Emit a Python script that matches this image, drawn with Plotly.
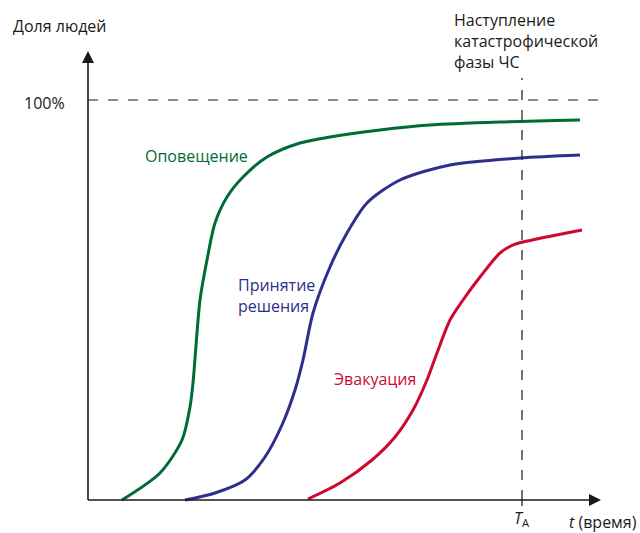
import plotly.graph_objects as go

# time in arbitrary units, share of people in %
notify_t = [3.4, 7.2, 9.4, 10.2, 10.5, 11.2, 11.9, 12.7, 13.9, 15.5, 17.9, 21.2, 24.2, 29.2, 34.2, 41.2, 49.2]
notify_y = [0, 6.75, 15, 23.25, 29.25, 50, 60, 69.25, 75.75, 80.75, 85.75, 89.25, 90.75, 92.5, 93.75, 94.5, 95]

decision_t = [9.7, 12.7, 15.7, 17.7, 19.4, 20.7, 21.5, 22.5, 24.2, 25.9, 27.9, 31.2, 36.2, 43.2, 49.2]
decision_y = [0, 1.75, 5, 10.75, 18.75, 27.5, 35, 46.75, 58.25, 66.75, 74.25, 80, 83.75, 85.5, 86.25]

evac_t = [22.0, 25.2, 28.4, 30.7, 32.5, 33.9, 34.9, 36.2, 37.5, 39.2, 41.2, 42.5, 43.5, 49.4]
evac_y = [0.25, 4.25, 10, 15.75, 22.5, 30, 36.75, 45, 50, 55.75, 61.75, 63.75, 64.5, 67.5]

T_A = 43.4
FULL = 100
X_END = 51.9
Y_END = 113.75

GREEN = "#006b35"
BLUE = "#2e2e8c"
RED = "#cc0a2e"
AXIS = "#1a1a1a"
FONT = "Open Sans"

fig = go.Figure()
for t, y, c in [(notify_t, notify_y, GREEN), (decision_t, decision_y, BLUE), (evac_t, evac_y, RED)]:
    fig.add_trace(go.Scatter(x=t, y=y, mode="lines", line=dict(color=c, width=3, shape="spline", smoothing=0.8),
                             hoverinfo="skip", showlegend=False))

# dashed reference lines
fig.add_shape(type="line", x0=0, x1=X_END, y0=FULL, y1=FULL, line=dict(color=AXIS, width=1.2, dash="10px,10px"))
fig.add_shape(type="line", x0=T_A, x1=T_A, y0=0, y1=105.5, line=dict(color=AXIS, width=1.2, dash="10px,10px"))
fig.add_shape(type="line", x0=T_A, x1=T_A, y0=-1.5, y1=0, line=dict(color=AXIS, width=1.2))

# axes
fig.add_shape(type="line", x0=0, x1=X_END - 0.8, y0=0, y1=0, line=dict(color=AXIS, width=1.6))
fig.add_shape(type="line", x0=0, x1=0, y0=0, y1=Y_END - 2, line=dict(color=AXIS, width=1.6))
fig.add_trace(go.Scatter(x=[X_END - 0.6, 0], y=[0, Y_END - 1.5], mode="markers",
                         marker=dict(symbol=["arrow-right", "arrow-up"], size=12, color=AXIS),
                         hoverinfo="skip", showlegend=False))

def txt(x, y, s, color="#1a1a1a", xa="left", align="left"):
    fig.add_annotation(x=x, y=y, text=s, showarrow=False, xanchor=xa, yanchor="middle", align=align,
                       font=dict(family=FONT, size=16, color=color))

txt(-2.8, 118.5, "Доля людей", xa="center")
txt(-2.1, 99.25, "100%", xa="right")
txt(5.5, 86, "Оповещение", GREEN)
txt(14.8, 51.1, "Принятие<br>решения", BLUE)
txt(24.4, 30.25, "Эвакуация", RED)
txt(36.4, 114.75, "Наступление<br>катастрофической<br>фазы ЧС")
txt(T_A, -4.5, "<i>T</i><sub>A</sub>", xa="center")
txt(47.9, -5.6, "<i>t</i> (время)")

fig.update_layout(width=640, height=533, margin=dict(l=0, r=0, t=0, b=0),
                  paper_bgcolor="white", plot_bgcolor="white",
                  xaxis=dict(range=[-8.8, 55.2], visible=False),
                  yaxis=dict(range=[-8.25, 125], visible=False))
fig.write_html("out.html", config={"displayModeBar": False},
               post_script="document.body.style.margin='0';")
